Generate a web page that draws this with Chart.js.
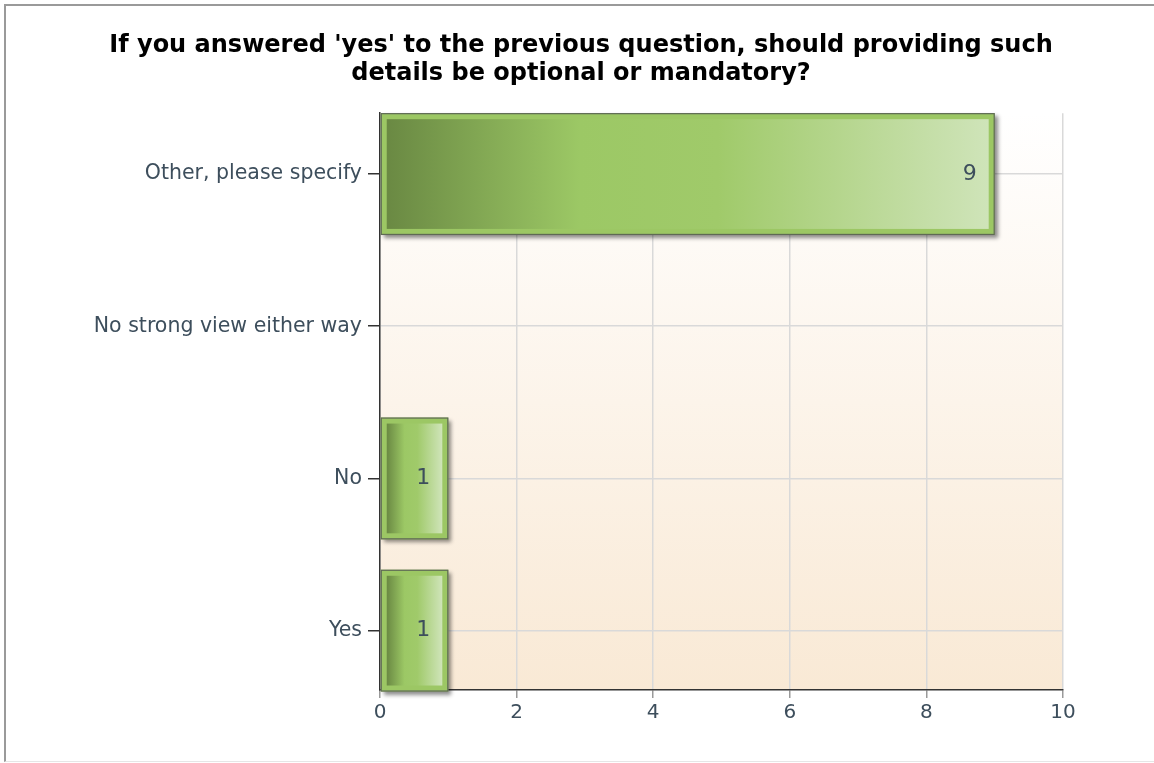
<!DOCTYPE html>
<html>
<head>
<meta charset="utf-8">
<title>Optional or mandatory details</title>
<script src="https://cdn.jsdelivr.net/npm/chart.js@4.4.1/dist/chart.umd.min.js"></script>
<style>
  body { margin: 0; background: #fff; }
  #frame {
    position: absolute; left: 4px; top: 4px; width: 1170px; height: 755px;
    border-left: 2px solid #9a9a9a; border-top: 2px solid #9a9a9a;
    border-bottom: 1px solid #e6e6e6;
  }
  #wrap { position: absolute; left: 0; top: 0; width: 1154px; height: 763px; }
</style>
</head>
<body>
<div id="frame"></div>
<div id="wrap"><canvas id="surveyChart" width="1154" height="763"></canvas></div>
<script>
const answers = ['Other, please specify', 'No strong view either way', 'No', 'Yes'];
const responses = [9, 0, 1, 1];
const countTicks = [0, 2, 4, 6, 8, 10];

const labelColor = '#3d4e5c';
Chart.defaults.font.family = '"DejaVu Sans", sans-serif';

// warm fade behind the plot
const plotBackground = {
  id: 'plotBackground',
  beforeDraw(chart) {
    const { ctx, chartArea: a } = chart;
    const g = ctx.createLinearGradient(0, a.top, 0, a.bottom);
    g.addColorStop(0, '#ffffff');
    g.addColorStop(1, '#f9e9d5');
    ctx.save();
    ctx.fillStyle = g;
    ctx.fillRect(a.left, a.top, a.right - a.left, a.bottom - a.top);
    ctx.restore();
  }
};

// framed, shaded bars with the count written near the end
const fancyBars = {
  id: 'fancyBars',
  afterDatasetsDraw(chart) {
    const ctx = chart.ctx;
    const meta = chart.getDatasetMeta(0);
    meta.data.forEach((bar, i) => {
      const { x, y, base, height } = bar.getProps(['x', 'y', 'base', 'height'], true);
      const left = Math.min(x, base), right = Math.max(x, base);
      if (right - left < 1) return;
      const top = y - height / 2, bottom = y + height / 2;
      const w = right - left, h = bottom - top;

      ctx.save();
      ctx.shadowColor = 'rgba(0,0,0,0.45)';
      ctx.shadowBlur = 4;
      ctx.shadowOffsetX = 3;
      ctx.shadowOffsetY = 3;
      ctx.fillStyle = '#9cc764';
      ctx.fillRect(left, top, w, h);
      ctx.restore();

      ctx.save();
      ctx.strokeStyle = '#5f6a55';
      ctx.lineWidth = 1.2;
      ctx.strokeRect(left + 0.5, top + 0.5, w - 1, h - 1);

      const inset = 6;
      const g = ctx.createLinearGradient(left + inset, 0, right - inset, 0);
      g.addColorStop(0, '#6a8943');
      g.addColorStop(0.32, '#9cc865');
      g.addColorStop(0.55, '#a0ca6a');
      g.addColorStop(1, '#cfe4b9');
      ctx.fillStyle = g;
      ctx.fillRect(left + inset, top + inset, w - 2 * inset, h - 2 * inset);

      ctx.fillStyle = labelColor;
      ctx.font = '22px "DejaVu Sans", sans-serif';
      ctx.textAlign = 'right';
      ctx.textBaseline = 'middle';
      ctx.fillText(String(responses[i]), right - 18, y);
      ctx.restore();
    });
  }
};

new Chart(document.getElementById('surveyChart'), {
  type: 'bar',
  data: {
    datasets: [{
      data: answers.map((a, i) => ({ x: responses[i], y: i })),
      backgroundColor: 'rgba(0,0,0,0)',
      borderWidth: 0,
      categoryPercentage: 0.8,
      barPercentage: 1
    }]
  },
  options: {
    indexAxis: 'y',
    responsive: false,
    animation: false,
    layout: { padding: { left: 8, right: 0, top: 0, bottom: 0 } },
    plugins: {
      legend: { display: false },
      tooltip: { enabled: false },
      title: {
        display: true,
        text: ["If you answered 'yes' to the previous question, should providing such",
               'details be optional or mandatory?'],
        color: '#000',
        font: { size: 24, weight: 'bold', lineHeight: 1.17 },
        padding: { top: 32, bottom: 25 }
      }
    },
    scales: {
      x: {
        type: 'linear',
        min: 0,
        max: 10,
        afterBuildTicks: (s) => { s.ticks = countTicks.map(v => ({ value: v })); },
        afterFit: (s) => { s.height = 73; s.paddingRight = 91; },
        grid: { color: '#d9d9d9', lineWidth: 1.5, tickColor: '#9a9a9a', tickLength: 8 },
        border: { color: '#333', width: 1.5 },
        ticks: { color: labelColor, font: { size: 20 }, padding: 3 }
      },
      y: {
        type: 'linear',
        reverse: true,
        offset: false,
        min: -0.4,
        max: 3.39,
        afterBuildTicks: (s) => { s.ticks = answers.map((a, i) => ({ value: i })); },
        afterFit: (s) => { s.width = 372; },
        grid: { offset: false, color: '#d9d9d9', lineWidth: 1.5, tickColor: '#333', tickLength: 12 },
        border: { color: '#333', width: 1.5 },
        ticks: {
          color: labelColor,
          font: { size: 20.5 },
          padding: 6,
          callback: (v) => answers[v] ?? ''
        }
      }
    }
  },
  plugins: [plotBackground, fancyBars]
});
</script>
</body>
</html>
